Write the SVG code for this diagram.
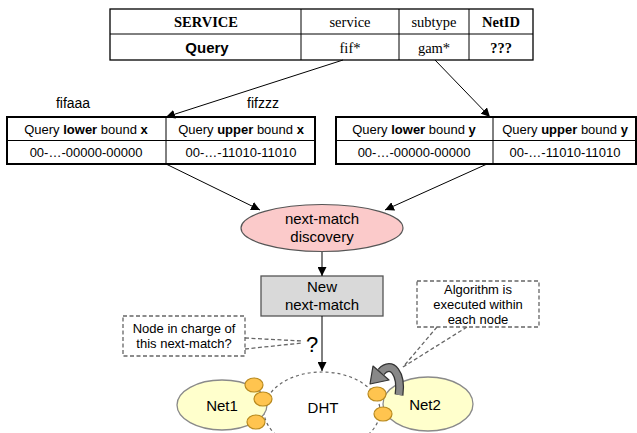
<svg xmlns="http://www.w3.org/2000/svg" width="637" height="433" viewBox="0 0 637 433">
  <style>
    .serif { font-family: "Liberation Serif", "Times New Roman", serif; font-size: 14.5px; fill: #000; text-anchor: middle; }
    .sans { font-family: "Liberation Sans", Arial, sans-serif; fill: #000; text-anchor: middle; }
    .cell { font-size: 13px; }
    .grid { fill: #fff; stroke: #000; stroke-width: 1.3; }
    .frame { fill: none; stroke: #000; stroke-width: 2; }
    .edge { fill: none; stroke: #000; stroke-width: 1; }
    .dash { fill: none; stroke: #666; stroke-width: 1.3; stroke-dasharray: 4 2.5; }
    .dot { fill: none; stroke: #666; stroke-width: 1.2; stroke-dasharray: 3 3; }
    .peer { fill: #ffc44f; stroke: #b98a1e; stroke-width: 1.2; }
    .net { fill: #ffffcc; stroke: #8a8a8a; stroke-width: 1.3; }
  </style>
  <defs>
    <marker id="arrow" viewBox="0 0 10 10" refX="10" refY="5" markerWidth="9" markerHeight="9" markerUnits="userSpaceOnUse" orient="auto">
      <path d="M0,0 L10,5 L0,10 z" fill="#000"/>
    </marker>
  </defs>

  <rect width="637" height="433" fill="#fff"/>

  <!-- service descriptor table -->
  <g id="service-table">
    <rect class="grid" x="110" y="9" width="423" height="51"/>
    <line class="edge" x1="110" y1="34" x2="533" y2="34"/>
    <line class="edge" x1="301" y1="9" x2="301" y2="60"/>
    <line class="edge" x1="399" y1="9" x2="399" y2="60"/>
    <line class="edge" x1="469" y1="9" x2="469" y2="60"/>
    <text class="serif" x="206" y="27" font-weight="bold">SERVICE</text>
    <text class="serif" x="350" y="27">service</text>
    <text class="serif" x="434" y="27">subtype</text>
    <text class="serif" x="501" y="27" font-weight="bold">NetID</text>
    <text class="sans" x="207" y="53" font-size="15" font-weight="bold">Query</text>
    <text class="serif" x="350" y="53">fif*</text>
    <text class="serif" x="434" y="53">gam*</text>
    <text class="serif" x="501" y="53" font-weight="bold">???</text>
  </g>

  <!-- bound table x -->
  <g id="bounds-x">
    <text class="sans" x="73" y="108" font-size="14">fifaaa</text>
    <text class="sans" x="263" y="108" font-size="14">fifzzz</text>
    <rect class="grid" x="7" y="117" width="308" height="47"/>
    <line class="edge" x1="7" y1="140.5" x2="315" y2="140.5"/>
    <line class="edge" x1="166" y1="117" x2="166" y2="164"/>
    <rect class="frame" x="7" y="117" width="308" height="47"/>
    <text class="sans cell" x="86" y="134">Query <tspan font-weight="bold">lower</tspan> bound <tspan font-weight="bold">x</tspan></text>
    <text class="sans cell" x="241" y="134">Query <tspan font-weight="bold">upper</tspan> bound <tspan font-weight="bold">x</tspan></text>
    <text class="sans cell" x="86" y="157">00-…-00000-00000</text>
    <text class="sans cell" x="241" y="157">00-…-11010-11010</text>
  </g>

  <!-- bound table y -->
  <g id="bounds-y">
    <rect class="grid" x="336" y="117" width="300" height="47"/>
    <line class="edge" x1="336" y1="140.5" x2="636" y2="140.5"/>
    <line class="edge" x1="493" y1="117" x2="493" y2="164"/>
    <rect class="frame" x="336" y="117" width="300" height="47"/>
    <text class="sans cell" x="414" y="134">Query <tspan font-weight="bold">lower</tspan> bound <tspan font-weight="bold">y</tspan></text>
    <text class="sans cell" x="565" y="134">Query <tspan font-weight="bold">upper</tspan> bound <tspan font-weight="bold">y</tspan></text>
    <text class="sans cell" x="414" y="157">00-…-00000-00000</text>
    <text class="sans cell" x="565" y="157">00-…-11010-11010</text>
  </g>

  <!-- discovery step -->
  <g id="discovery">
    <ellipse cx="322" cy="228" rx="81" ry="23.5" fill="#fbcaca" stroke="#555" stroke-width="1.2"/>
    <text class="sans" x="322" y="224" font-size="15">next-match</text>
    <text class="sans" x="322" y="242" font-size="15">discovery</text>
  </g>

  <!-- resulting next-match -->
  <g id="new-next-match">
    <rect x="261" y="276" width="122" height="40" fill="#d9d9d9" stroke="#555" stroke-width="1.3"/>
    <text class="sans" x="322" y="292" font-size="15">New</text>
    <text class="sans" x="322" y="310" font-size="15">next-match</text>
  </g>

  <!-- DHT overlay ring -->
  <g id="dht">
    <ellipse class="dot" cx="322" cy="411" rx="58" ry="39"/>
    <text class="sans" x="323" y="413" font-size="15">DHT</text>
  </g>

  <!-- network 1 -->
  <g id="net1">
    <ellipse class="net" cx="222" cy="405" rx="45" ry="25"/>
    <text class="sans" x="222" y="411" font-size="15">Net1</text>
    <ellipse class="peer" cx="254" cy="385" rx="9" ry="7"/>
    <ellipse class="peer" cx="263" cy="399" rx="9" ry="7"/>
    <ellipse class="peer" cx="256" cy="422" rx="9" ry="7"/>
  </g>

  <!-- network 2 -->
  <g id="net2">
    <ellipse class="net" cx="428" cy="404" rx="45" ry="27"/>
    <text class="sans" x="425" y="410" font-size="15">Net2</text>
    <ellipse class="peer" cx="377" cy="394" rx="9" ry="7"/>
    <ellipse class="peer" cx="383" cy="414" rx="9" ry="7"/>
  </g>

  <!-- local execution arrow -->
  <g id="local-loop">
    <path d="M399,395 C402,374 392,360 381,372" fill="none" stroke="#333" stroke-width="9"/>
    <path d="M399,395 C402,374 392,360 381,372" fill="none" stroke="#888" stroke-width="6.5"/>
    <polygon points="370,384 373,366 389,380" fill="#888" stroke="#333" stroke-width="1.2" stroke-linejoin="round"/>
  </g>

  <!-- callouts -->
  <g id="callout-node">
    <rect class="dash" x="123" y="316" width="122" height="40"/>
    <path class="dash" d="M245,338 L302,341 M245,349 L302,343"/>
    <text class="sans" x="184" y="333" font-size="13">Node in charge of</text>
    <text class="sans" x="184" y="348" font-size="13">this next-match?</text>
    <text class="sans" x="312" y="352" font-size="22">?</text>
  </g>
  <g id="callout-algorithm">
    <rect class="dash" x="417" y="281" width="122" height="46"/>
    <path class="dash" d="M437,327 L403,367 M467,327 L403,367"/>
    <text class="sans" x="478" y="294" font-size="13">Algorithm is</text>
    <text class="sans" x="478" y="309" font-size="13">executed within</text>
    <text class="sans" x="478" y="324" font-size="13">each node</text>
  </g>

  <!-- connectors -->
  <g id="connectors">
    <line class="edge" x1="343" y1="60" x2="166" y2="117" marker-end="url(#arrow)"/>
    <line class="edge" x1="435" y1="60" x2="490" y2="117" marker-end="url(#arrow)"/>
    <line class="edge" x1="166" y1="164" x2="260" y2="210" marker-end="url(#arrow)"/>
    <line class="edge" x1="487" y1="164" x2="385" y2="210" marker-end="url(#arrow)"/>
    <line class="edge" x1="322" y1="252" x2="322" y2="276" marker-end="url(#arrow)"/>
    <line class="edge" x1="322" y1="316" x2="322" y2="371" marker-end="url(#arrow)"/>
  </g>
</svg>
